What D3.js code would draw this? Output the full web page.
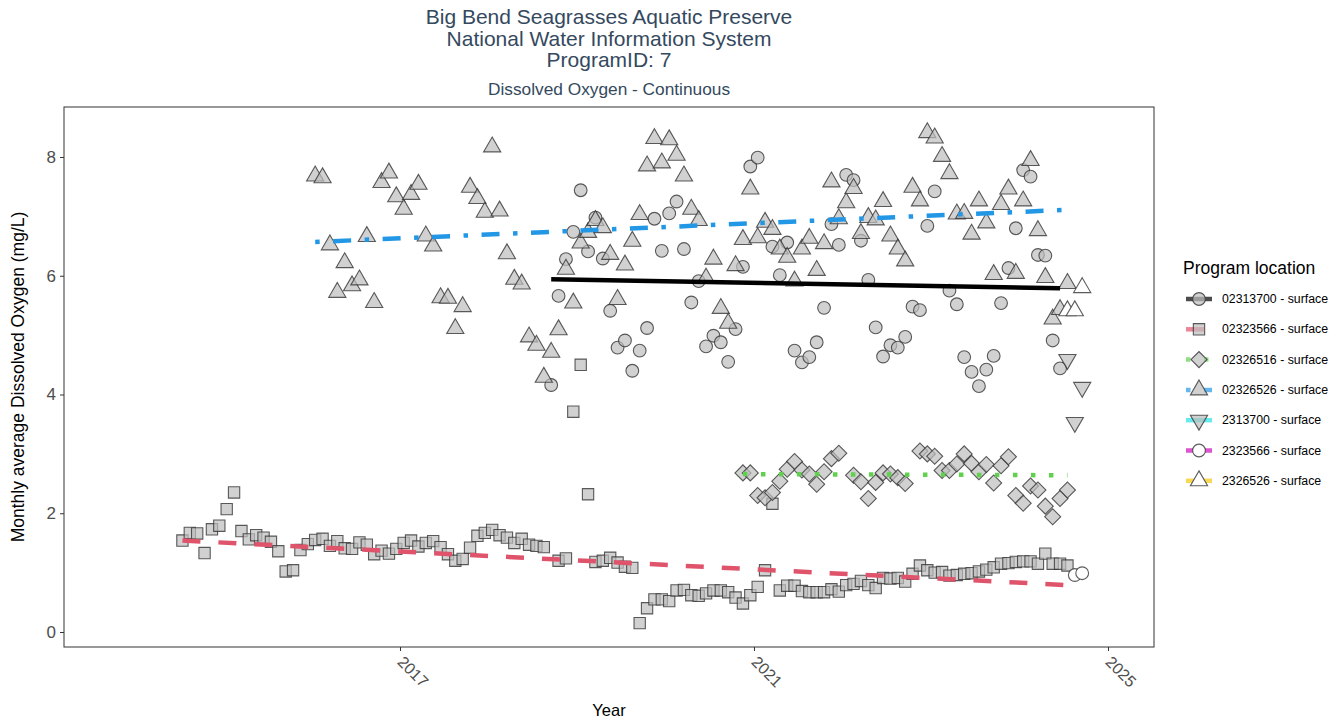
<!DOCTYPE html>
<html>
<head>
<meta charset="utf-8">
<script src="https://cdn.jsdelivr.net/npm/d3@7"></script>
<style>
  body { margin: 0; background: #fff; }
  svg text { font-family: "Liberation Sans", Arial, sans-serif; }
</style>
</head>
<body>
<div id="chart"></div>
<script>
// ---- data (monthly averages) ----
const titleLines = ["Big Bend Seagrasses Aquatic Preserve", "National Water Information System", "ProgramID: 7"];
const subtitle = "Dissolved Oxygen - Continuous";
const locations = ["02313700 - surface", "02323566 - surface", "02326516 - surface", "02326526 - surface",
                   "2313700 - surface", "2323566 - surface", "2326526 - surface"];
const yTicks = [0, 2, 4, 6, 8];
const xTicks = [2017, 2021, 2025];

// 02313700 (circles) from Sep 2018
const st02313700_start = [2018, 9];
const st02313700 = [4.16, 5.66, 6.28, 6.74,
  7.44, 6.41, 6.98, 6.29, 5.41, 4.79, 4.91, 4.40, 4.74, 5.12, 6.96, 6.42,
  7.05, 7.25, 6.45, 5.55, 5.91, 4.81, 4.99, 4.88, 4.55, 5.10, 6.15, 7.84,
  7.99, null, 6.49, 6.01, 6.56, 4.74, 4.54, 4.63, 4.88, 5.46, 6.87, 6.52,
  7.70, 7.61, 6.59, 5.93, 5.13, 4.64, 4.83, 4.79, 4.97, 5.48, 5.42, 6.84,
  7.42, null, 5.75, 5.52, 4.63, 4.38, 4.14, 4.42, 4.65, 5.54, 6.13, 6.80,
  7.78, 7.67, 6.35, 6.34, 4.91, 4.44];

// 02323566 (squares) from Jul 2014
const st02323566_start = [2014, 7];
const st02323566 = [1.54, 1.67, 1.66, 1.33, 1.73, 1.79, 2.07, 2.35, 1.70, 1.56,
  1.63, 1.59, 1.52, 1.36, 1.02, 1.04, 1.38, 1.48, 1.55, 1.57,
  1.45, 1.53, 1.41, 1.40, 1.51, 1.47, 1.31, 1.37, 1.32, 1.40,
  1.50, 1.54, 1.44, 1.50, 1.53, 1.43, 1.31, 1.20, 1.23, 1.42,
  1.62, 1.67, 1.72, 1.63, 1.59, 1.50, 1.57, 1.47, 1.45, 1.43,
  null, 1.20, 1.24, 3.71, 4.50, 2.32, 1.18, 1.20, 1.25, 1.17,
  1.10, 1.08, 0.15, 0.40, 0.55, 0.55, 0.52, 0.70, 0.71, 0.62,
  0.61, 0.65, 0.70, 0.70, 0.67, 0.58, 0.48, 0.62, 0.76, 1.04,
  2.16, 0.70, 0.78, 0.78, 0.69, 0.67, 0.67, 0.67, 0.72, 0.68,
  0.79, 0.81, 0.86, 0.79, 0.74, 0.91, 0.90, 0.91, 0.85, 0.98,
  1.12, 1.04, 1.00, 1.01, 0.95, 0.96, 0.98, 0.99, 1.02, 1.05,
  1.09, 1.15, 1.16, 1.18, 1.19, 1.19, 1.15, 1.32, 1.15, 1.15,
  1.12];

// 02326516 (diamonds) from Nov 2020
const st02326516_start = [2020, 11];
const st02326516 = [2.68, 2.68, 2.30, 2.26, 2.35, 2.54, 2.74, 2.87, 2.73, 2.66, 2.49, 2.70, 2.92, 3.01,
  null, 2.64, 2.53, 2.25, 2.52, 2.68, 2.66, 2.60, 2.50, null, 3.05, 3.00,
  2.96, 2.72, 2.72, 2.83, 3.00, 2.84, 2.70, 2.82, 2.51, 2.80, 2.95, 2.30,
  2.17, 2.46, 2.39, 2.12, 1.94, 2.25, 2.39];

// 02326526 (triangles) from Jan 2016
const st02326526_start = [2016, 1];
const st02326526 = [7.68, 7.65, 6.52, 5.72, 6.22, 5.83, 5.93, 6.66, 5.55, 7.57, 7.73, 7.33,
  7.12, 7.37, 7.54, 6.67, 6.50, 5.63, 5.62, 5.11, 5.48, 7.49, 7.30, 7.07,
  8.17, 7.09, 6.37, 5.94, 5.86, 4.97, 4.83, 4.29, 4.71, 5.09, 6.11, 5.54,
  6.55, 6.73, 6.93, 6.81, 6.36, 5.60, 6.18, 6.58, 7.03, 7.85, 8.31, 7.90,
  8.29, 8.03, 7.68, 7.12, 6.93, 5.96, 6.28, 5.45, 5.20, 6.17, 6.61, 7.46,
  6.64, 6.90, 6.78, 6.45, 6.31, 5.91, 6.45, 6.63, 6.09, 6.54, 7.58, 6.96,
  7.23, 7.47, 6.71, 6.98, 6.94, 7.25, 6.67, 6.45, 6.25, 7.49, 7.26, 8.41,
  8.32, 8.01, 7.72, 7.04, 7.05, 6.70, 7.26, 6.89, 6.02, 7.20, 7.46, 6.04,
  7.26, 7.94, 6.76, 5.97, 5.27, 5.43, 5.87];

// new station codes, 2024
const st2313700_start = [2024, 7];
const st2313700 = [4.59, 3.53, 4.12];
const st2323566_start = [2024, 8];
const st2323566 = [0.96, 0.99];
const st2326526_start = [2024, 7];
const st2326526 = [5.41, 5.41, 5.80];

// trend lines: value at first and last month of each long series
const trend02313700 = [5.94, 5.79];
const trend02323566 = [1.54, 0.79];
const trend02326516 = [2.66, 2.64];
const trend02326526 = [6.57, 7.11];

// ---- layout ----
const W = 1340, H = 723;
const panel = { left: 64, right: 1154, top: 107, bottom: 647 };
const colors = ["#000000", "#DF536B", "#61D04F", "#2297E6", "#28E2E5", "#CD0BBC", "#F5C710"];
const dashes = [null, "18,18", "4.5,13.5", "4.5,13.5,18,13.5", null, null, null];
const shapes = ["circle", "square", "diamond", "triangle", "down", "circle", "triangle"];
const fills = ["gray", "gray", "gray", "gray", "gray", "white", "white"];
const titleColor = "#34495E";

const toSeries = (start, vals) => vals.map((v, i) => {
  const m = start[1] - 1 + i;
  return { t: start[0] + Math.floor(m / 12) + ((m % 12) + 0.5) / 12, v: v };
}).filter(d => d.v !== null);

const series = [
  toSeries(st02313700_start, st02313700),
  toSeries(st02323566_start, st02323566),
  toSeries(st02326516_start, st02326516),
  toSeries(st02326526_start, st02326526),
  toSeries(st2313700_start, st2313700),
  toSeries(st2323566_start, st2323566),
  toSeries(st2326526_start, st2326526)
];
const trends = [trend02313700, trend02323566, trend02326516, trend02326526];

const x = d3.scaleLinear().domain([2013.2034, 2025.5198]).range([panel.left, panel.right]);
const y = d3.scaleLinear().domain([-0.2526, 8.8421]).range([panel.bottom, panel.top]);

const svg = d3.select("#chart").append("svg").attr("width", W).attr("height", H);

// symbol helper (equal-area shapes like R's pch 21-25)
const symSize = 128;
function shapePath(s) {
  if (s === "circle") return d3.symbol(d3.symbolCircle, symSize)();
  if (s === "square" || s === "diamond") return d3.symbol(d3.symbolSquare, symSize)();
  return d3.symbol(d3.symbolTriangle, symSize)();
}
function shapeRot(s) {
  if (s === "diamond") return " rotate(45)";
  if (s === "down") return " rotate(180)";
  return "";
}
function drawMarker(g, s, fill, cx, cy) {
  g.append("path")
    .attr("d", shapePath(s))
    .attr("transform", "translate(" + cx + "," + cy + ")" + shapeRot(s))
    .attr("fill", fill === "gray" ? "#bebebe" : "#ffffff")
    .attr("fill-opacity", fill === "gray" ? 0.7 : 1)
    .attr("stroke", "#333333")
    .attr("stroke-opacity", 0.8)
    .attr("stroke-width", 1.1);
}

// points
const pts = svg.append("g");
series.forEach((d, i) => {
  d.forEach(p => drawMarker(pts, shapes[i], fills[i], x(p.t), y(p.v)));
});

// trend lines (on top of points)
const lines = svg.append("g");
trends.forEach((tr, i) => {
  const d = series[i];
  lines.append("line")
    .attr("x1", x(d[0].t)).attr("y1", y(tr[0]))
    .attr("x2", x(d[d.length - 1].t)).attr("y2", y(tr[1]))
    .attr("stroke", colors[i])
    .attr("stroke-width", 4.5)
    .attr("stroke-dasharray", dashes[i])
    .attr("stroke-linecap", "butt");
});

// panel border
svg.append("rect")
  .attr("x", panel.left).attr("y", panel.top)
  .attr("width", panel.right - panel.left).attr("height", panel.bottom - panel.top)
  .attr("fill", "none").attr("stroke", "#333333").attr("stroke-width", 1);

// axes
const yAxis = svg.append("g")
  .attr("transform", "translate(" + panel.left + ",0)")
  .call(d3.axisLeft(y).tickValues(yTicks).tickSize(4).tickPadding(4));
yAxis.select(".domain").remove();
yAxis.selectAll(".tick line").attr("stroke", "#333333");
yAxis.selectAll(".tick text").attr("fill", "#4d4d4d").style("font-size", "17px");

const xAxis = svg.append("g")
  .attr("transform", "translate(0," + panel.bottom + ")")
  .call(d3.axisBottom(x).tickValues(xTicks).tickFormat(d3.format("d")).tickSize(4));
xAxis.select(".domain").remove();
xAxis.selectAll(".tick line").attr("stroke", "#333333");
xAxis.selectAll(".tick text")
  .attr("fill", "#4d4d4d").style("font-size", "16px")
  .attr("text-anchor", "start")
  .attr("dy", null).attr("y", 0)
  .attr("transform", "translate(-4,16) rotate(45)");

// axis titles
svg.append("text")
  .attr("x", (panel.left + panel.right) / 2).attr("y", 716)
  .attr("text-anchor", "middle").style("font-size", "16.5px").attr("fill", "#000")
  .text("Year");
svg.append("text")
  .attr("transform", "translate(24," + ((panel.top + panel.bottom) / 2) + ") rotate(-90)")
  .attr("text-anchor", "middle").style("font-size", "17.5px").attr("fill", "#000")
  .text("Monthly average Dissolved Oxygen (mg/L)");

// titles
const cx = (panel.left + panel.right) / 2;
titleLines.forEach((t, i) => {
  svg.append("text")
    .attr("x", cx).attr("y", 24 + i * 21.7)
    .attr("text-anchor", "middle").style("font-size", "21px").attr("fill", titleColor)
    .text(t);
});
svg.append("text")
  .attr("x", cx).attr("y", 95)
  .attr("text-anchor", "middle").style("font-size", "17.3px").attr("fill", titleColor)
  .text(subtitle);

// legend
const lg = svg.append("g");
lg.append("text")
  .attr("x", 1183).attr("y", 274)
  .style("font-size", "17.5px").attr("fill", "#000")
  .text("Program location");
locations.forEach((name, i) => {
  const ry = 299 + i * 30.3;
  lg.append("line")
    .attr("x1", 1186).attr("x2", 1212).attr("y1", ry).attr("y2", ry)
    .attr("stroke", colors[i]).attr("stroke-opacity", 0.7)
    .attr("stroke-width", 4.5)
    .attr("stroke-dasharray", dashes[i]);
  drawMarker(lg, shapes[i], fills[i], 1199, ry);
  lg.append("text")
    .attr("x", 1222).attr("y", ry + 4)
    .style("font-size", "12.3px").attr("fill", "#000")
    .text(name);
});
</script>
</body>
</html>
